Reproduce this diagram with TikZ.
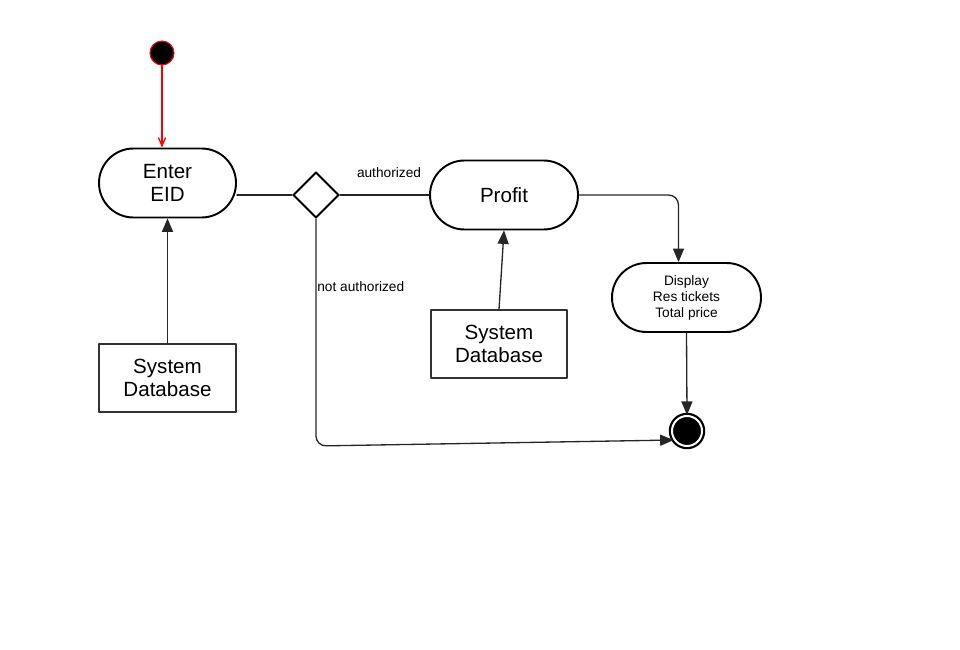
\documentclass[tikz,border=0pt]{standalone}
\usepackage{fontspec}
\setmainfont{Liberation Sans}
\usetikzlibrary{arrows}
\usetikzlibrary{shapes.misc,shapes.geometric}

\begin{document}
\begin{tikzpicture}[line cap=round,line join=round,>=triangle 45,x=1.0cm,y=1.0cm,
	activity/.style={rounded rectangle,draw,line width=1.1pt,minimum height=1.38cm,align=center,inner sep=0pt,font=\fontsize{11.7}{13}\selectfont},
	dbbox/.style={rectangle,draw=black!80,line width=0.6pt,minimum width=2.74cm,minimum height=1.36cm,align=center,font=\fontsize{11.7}{13}\selectfont},
	flow/.style={line width=0.75pt,black!85},
	guard/.style={font=\fontsize{7.8}{9}\selectfont}]
			\clip(0.,-13.) rectangle (19.2,0.);
			\node[circle,fill=black,draw=red,line width=0.6pt,minimum size=0.48cm,inner sep=0pt] (start) at (3.24,-1.06) {};
			\node[activity,minimum width=2.74cm] (eid) at (3.35,-3.66) {Enter\\EID};
			\node[diamond,draw,line width=1.1pt,minimum width=0.92cm,minimum height=0.92cm,inner sep=0pt] (dec) at (6.32,-3.9) {};
			\node[activity,minimum width=2.96cm] (prof) at (10.08,-3.9) {Profit};
			\node[activity,minimum width=2.98cm,font=\fontsize{7.8}{9.2}\selectfont] (disp) at (13.73,-5.95) {\strut Display\\Res tickets\\Total price};
			\node[circle,draw,fill=black,line width=0.045cm,double=white,double distance=0.04cm,minimum size=0.6cm,inner sep=0pt] (endpt) at (13.74,-8.62) {};
			\node[dbbox] (db1) at (3.35,-7.56) {System\\Database};
			\node[dbbox,minimum width=2.72cm] (db2) at (9.98,-6.88) {System\\Database};
			\coordinate (nacorner) at (6.32,-8.92);
			\draw [red,line width=0.75pt,-angle 45] (start) -- (start |- eid.north);
			\draw [flow] (dec.west) -- (dec.west -| eid.east);
			\draw [flow] (dec.east) -- (prof.west);
			\draw [flow,->,rounded corners=0.2cm] (prof.east) -| ([xshift=-0.16cm]disp.north);
			\draw [flow,->] (disp.south) -- (endpt.north);
			\draw [flow,->,rounded corners=0.2cm] (dec.south) -- (nacorner) -- (endpt.214);
			\draw [flow,->] (db1.north) -- (eid.south);
			\draw [flow,->] (db2.north) -- (prof.south);
			\draw (7.78,-3.46) node[guard] {authorized};
			\draw (6.34,-5.74) node[guard,anchor=west,inner sep=0pt] {not authorized};
\end{tikzpicture}
\end{document}
